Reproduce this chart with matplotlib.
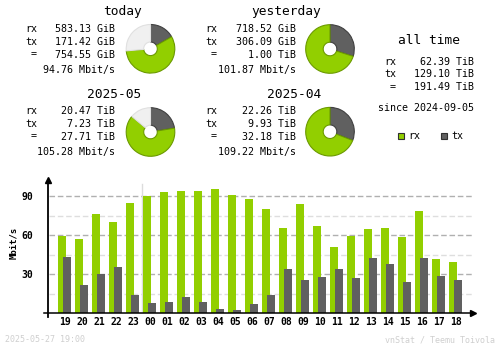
import matplotlib
matplotlib.use("Agg")
import matplotlib.pyplot as plt
from matplotlib.patches import Rectangle

# traffic summary
periods = ["today", "yesterday", "2025-05", "2025-04"]
rx_vals = [583.13, 718.52, 20.47, 22.26]
tx_vals = [171.42, 306.09, 7.23, 9.93]
total_vals = [754.55, 1.00, 27.71, 32.18]
rx_units = ["GiB", "GiB", "TiB", "TiB"]
tx_units = ["GiB", "GiB", "TiB", "TiB"]
total_units = ["GiB", "TiB", "TiB", "TiB"]
rates = [94.76, 101.87, 105.28, 109.22]

alltime_rx = 62.39
alltime_tx = 129.10
alltime_total = 191.49
alltime_since = "2024-09-05"

# hourly average rates, Mbit/s
hours = ["19", "20", "21", "22", "23", "00", "01", "02", "03", "04", "05", "06",
         "07", "08", "09", "10", "11", "12", "13", "14", "15", "16", "17", "18"]
rx_rate = [59.5, 57.2, 76.4, 70.3, 84.9, 90.3, 93.3, 94.1, 94.1, 95.6, 91.0, 87.9,
           80.3, 65.6, 84.1, 67.2, 51.0, 59.5, 64.9, 65.6, 58.7, 78.7, 41.8, 39.5]
tx_rate = [43.3, 21.8, 30.3, 35.6, 14.1, 7.9, 8.7, 12.6, 8.7, 3.3, 2.6, 7.2,
           14.1, 34.1, 25.6, 27.9, 34.1, 27.2, 42.6, 37.9, 24.1, 42.6, 28.7, 25.6]

stamp = "2025-05-27 19:00"
credit = "vnStat / Teemu Toivola"

RX = "#92cf00"
RX_EDGE = "#6b9a00"
TX = "#606060"
TX_EDGE = "#404040"
REST = "#f0f0f0"
REST_EDGE = "#e0e0e0"
MONO = "DejaVu Sans Mono"

W, H = 500, 348
fig = plt.figure(figsize=(W / 100, H / 100), dpi=100)
fig.patch.set_facecolor("white")


def box(x0, y0, x1, y1):
    return [x0 / W, 1 - y1 / H, (x1 - x0) / W, (y1 - y0) / H]


# overlay in pixel coordinates for the text blocks
ov = fig.add_axes([0, 0, 1, 1])
ov.set_xlim(0, W)
ov.set_ylim(H, 0)
ov.axis("off")


def in_gib(v, unit):
    return v * 1024 if unit == "TiB" else v


def block(i, xl, xr, xt, yt):
    ov.text(xt, yt, periods[i], ha="center", va="center", family=MONO, fontsize=9.3)
    rows = [("rx", f"{rx_vals[i]:.2f} {rx_units[i]}"),
            ("tx", f"{tx_vals[i]:.2f} {tx_units[i]}"),
            ("=", f"{total_vals[i]:.2f} {total_units[i]}")]
    for (lab, val), dy in zip(rows, [17.5, 29.7, 42.5]):
        ov.text(xl + (6 if lab == "=" else 0), yt + dy, lab, ha="left", va="center",
                family=MONO, fontsize=7.2)
        ov.text(xr, yt + dy, val, ha="right", va="center", family=MONO, fontsize=7.2)
    ov.text(xr, yt + 57.5, f"{rates[i]:.2f} Mbit/s", ha="right", va="center",
            family=MONO, fontsize=7.2)


def pie(i, j, cx, cy, r=24.3):
    # the larger total of the pair fills the whole circle
    tot_i = in_gib(rx_vals[i], rx_units[i]) + in_gib(tx_vals[i], tx_units[i])
    tot_j = in_gib(rx_vals[j], rx_units[j]) + in_gib(tx_vals[j], tx_units[j])
    vals = [in_gib(tx_vals[i], tx_units[i]), in_gib(rx_vals[i], rx_units[i]),
            max(tot_i, tot_j) - tot_i]
    cols = [TX, RX, REST]
    edges = [TX_EDGE, RX_EDGE, REST_EDGE]
    keep = [k for k, v in enumerate(vals) if v > 0]
    m = 1.04
    pax = fig.add_axes(box(cx - r * m, cy - r * m, cx + r * m, cy + r * m))
    wedges, _ = pax.pie([vals[k] for k in keep], colors=[cols[k] for k in keep],
                        startangle=90, counterclock=False,
                        wedgeprops=dict(width=0.72, linewidth=0.8))
    for w, k in zip(wedges, keep):
        w.set_edgecolor(edges[k])
    pax.set_xlim(-m, m)
    pax.set_ylim(-m, m)
    pax.set_aspect("equal")
    pax.axis("off")


block(0, 25, 115, 122, 12)
block(1, 205, 295.7, 286, 12)
block(2, 25, 115, 114, 94)
block(3, 205, 295.7, 294, 94)
pie(0, 1, 150.5, 48.8)
pie(1, 0, 330, 49)
pie(2, 3, 150.5, 132)
pie(3, 2, 330, 131.7)

# all time
ov.text(428.7, 40, "all time", ha="center", va="center", family=MONO, fontsize=9.3)
for lab, val, y in [("rx", alltime_rx, 62), ("tx", alltime_tx, 74), ("=", alltime_total, 87)]:
    ov.text(384 + (6 if lab == "=" else 0), y, lab, ha="left", va="center",
            family=MONO, fontsize=7.2)
    ov.text(474, y, f"{val:.2f} TiB", ha="right", va="center", family=MONO, fontsize=7.2)
ov.text(474, 108.3, f"since {alltime_since}", ha="right", va="center",
        family=MONO, fontsize=7.2)

# legend
for x, fc, ec, lab in [(398, RX, RX_EDGE, "rx"), (441, TX, TX_EDGE, "tx")]:
    ov.add_patch(Rectangle((x, 133), 6, 6, facecolor=fc, edgecolor="#303030", lw=0.8))
    ov.text(x + 10, 136, lab, ha="left", va="center", family=MONO, fontsize=7.2)

# hourly chart
px0, px1, py0, py1 = 44, 476, 180, 313.3
step, first = 17.0, 65.0
ax = fig.add_axes(box(px0, py0, px1, py1))
ax.set_xlim((px0 - first) / step, (px1 - first) / step)
ax.set_ylim(0, (py1 - py0) / 1.3)
for s in ax.spines.values():
    s.set_visible(False)
ax.set_facecolor("none")

xs = list(range(len(hours)))
for v in range(15, 91, 15):
    ax.axhline(v, xmin=(49 - px0) / (px1 - px0), xmax=(472.7 - px0) / (px1 - px0),
               color="#b0b0b0" if v % 30 == 0 else "#dedede", lw=1.0,
               dashes=(4, 2), zorder=0)
midnight = hours.index("00") - 0.5
ax.plot([midnight, midnight], [0, 99.5], color="#dcdcdc", lw=1.0, zorder=0)

ax.bar([x - 3 / step for x in xs], rx_rate, width=8 / step, color=RX, zorder=2)
ax.bar([x + 2 / step for x in xs], tx_rate, width=8 / step, color=TX, zorder=3)

yax = (48.3 - first) / step
ax.plot([yax, yax], [-3, 101], color="black", lw=1.3, clip_on=False, zorder=4)
ax.plot(yax, 102.3, marker="^", ms=4.5, color="black", clip_on=False, zorder=4)
ax.plot([(px0 - first) / step, (473 - first) / step], [0, 0], color="black", lw=1.1,
        clip_on=False, zorder=4)
ax.plot((473 - first) / step, 0, marker=">", ms=4.5, color="black", clip_on=False, zorder=4)

ax.set_xticks(xs)
ax.set_xticklabels(hours, family=MONO, fontsize=7, fontweight="bold")
ax.set_yticks([30, 60, 90])
ax.set_yticklabels(["30", "60", "90"], family=MONO, fontsize=7, fontweight="bold")
ax.tick_params(axis="x", length=0, pad=2.5)
ax.tick_params(axis="y", length=0, pad=7.9)

ov.text(14, 243, "Mbit/s", rotation=90, ha="center", va="center", family=MONO,
        fontsize=6.5, fontweight="bold")

ov.text(5, 340, stamp, ha="left", va="center", family=MONO, fontsize=6, color="#cfcfcf")
ov.text(495, 340, credit, ha="right", va="center", family=MONO, fontsize=6, color="#cfcfcf")

fig.savefig("out.png", dpi=100, facecolor="white")
